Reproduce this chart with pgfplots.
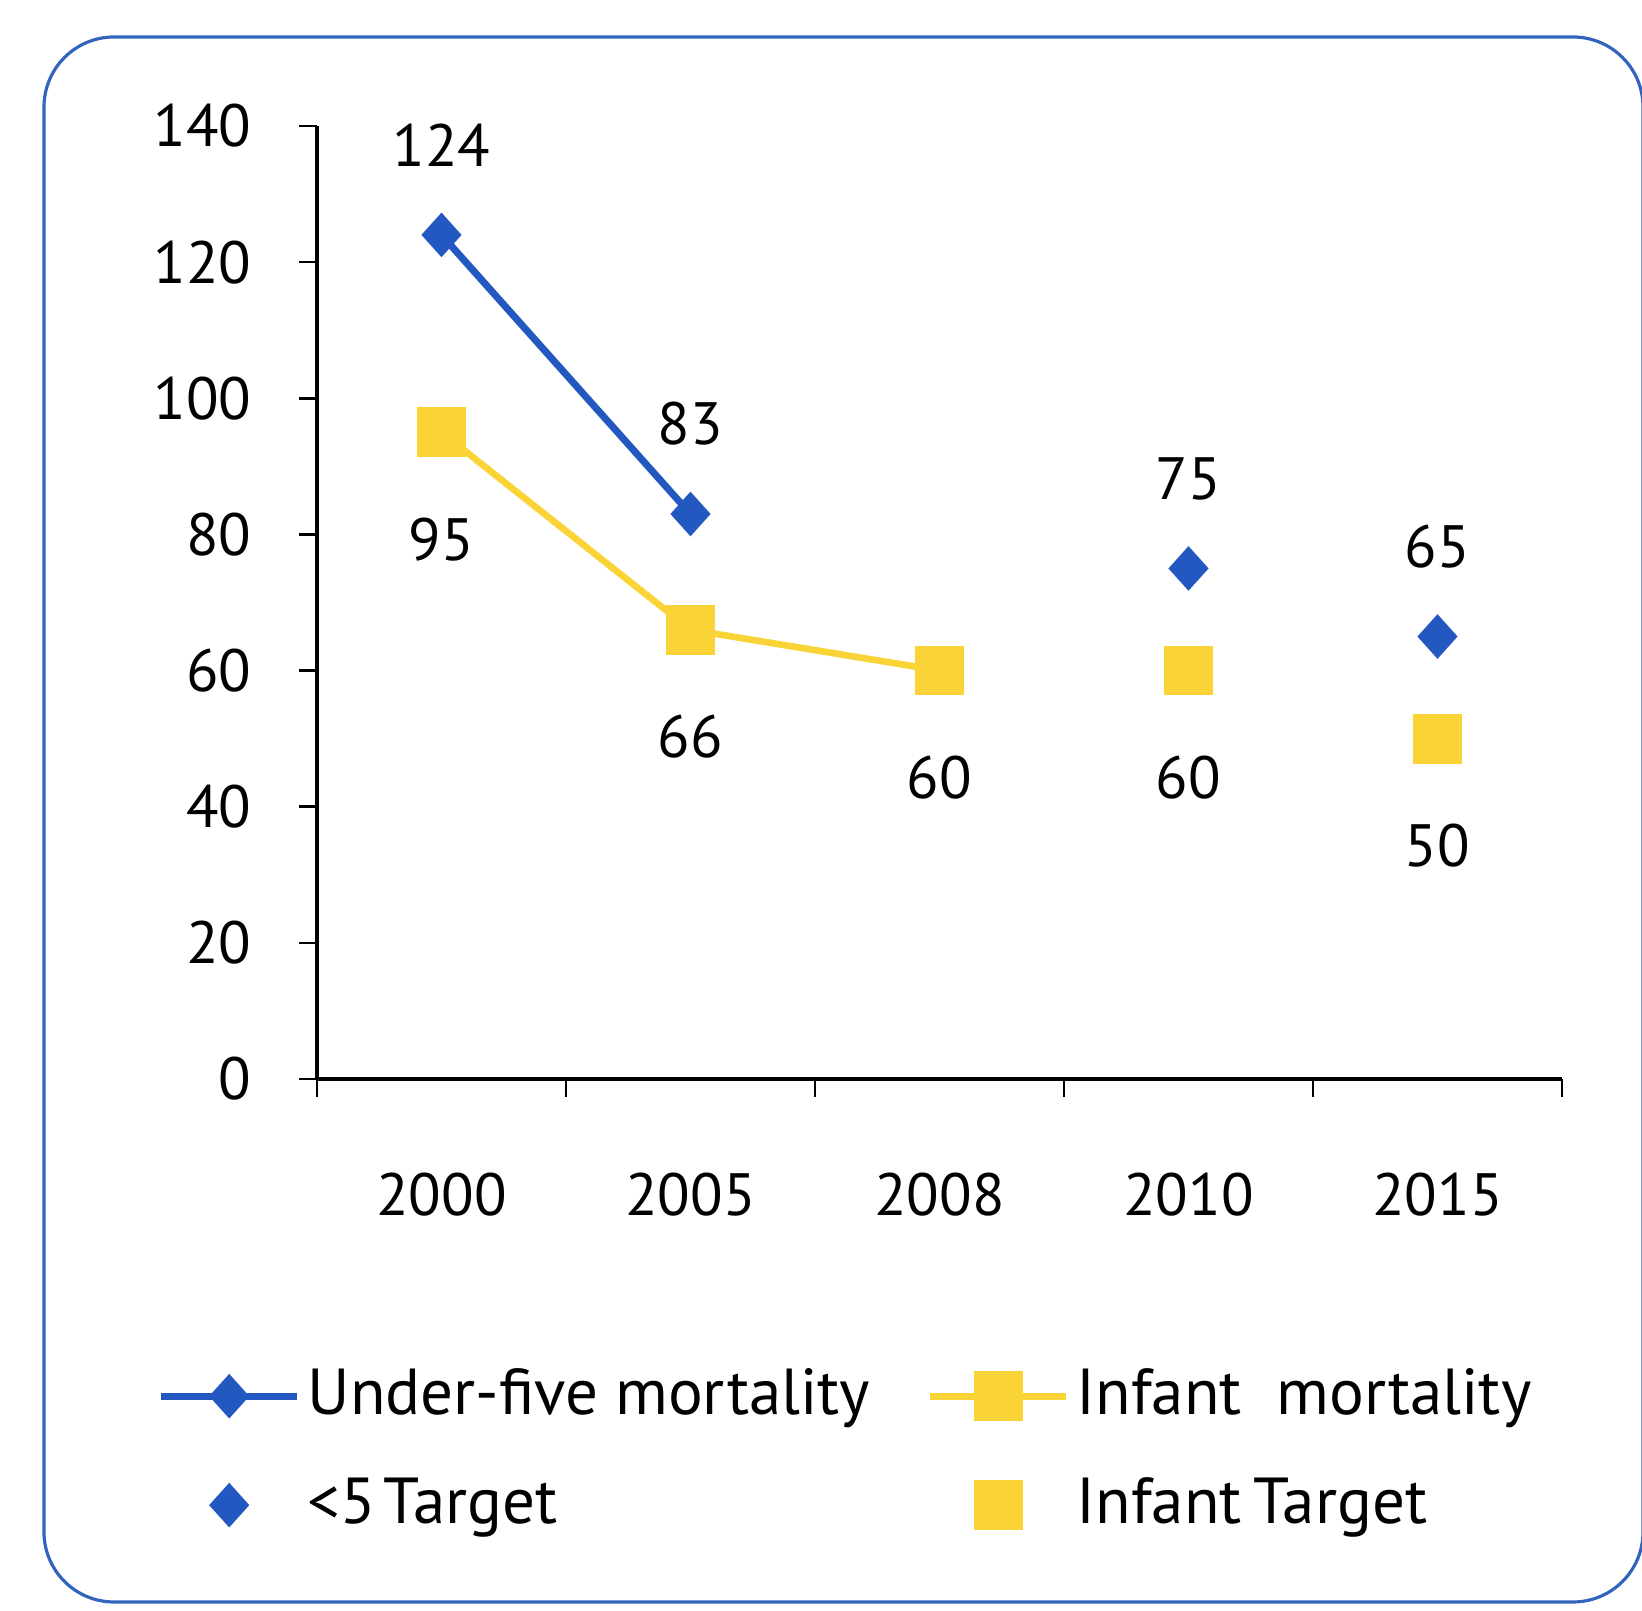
\documentclass[border=0pt]{standalone}
\usepackage{pgfplots}
\pgfplotsset{compat=1.18}
\usepackage{fontspec}
\setmainfont{PT Sans}
\definecolor{cblue}{RGB}{35,88,192}
\definecolor{cyel}{RGB}{250,212,55}
\definecolor{cframe}{RGB}{50,100,190}
\begin{document}
\fontsize{17}{20}\selectfont
\begin{tikzpicture}
\useasboundingbox (0,0) rectangle (16.42,16.11);
\draw[cframe, line width=0.9pt, rounded corners=0.7cm] (0.44,0.09) rectangle (16.43,15.74);
\begin{axis}[
  at={(3.17cm,5.32cm)}, anchor=south west,
  scale only axis, width=12.45cm, height=9.53cm,
  xmin=0, xmax=5, ymin=0, ymax=140,
  axis lines*=left,
  axis line style={line width=0.9pt, black},
  xtick={0,1,2,3,4,5},
  xticklabels={2000,2005,2008,2010,2015},
  x tick label as interval,
  ytick={0,20,...,140},
  tick align=outside,
  major tick length=0.18cm,
  tick style={line width=0.7pt, black},
  /pgf/number format/assume math mode=true,
  ticklabel style={font=\fontsize{17}{20}\selectfont},
  yticklabel style={xshift=-0.27cm},
  xticklabel style={yshift=-0.55cm},
  clip=false,
  legend columns=2,
  legend style={draw=none, fill=none, at={(rel axis cs:0,0)}, anchor=north west,
    xshift=-1.60cm, yshift=-2.82cm, inner sep=0pt, row sep=0.40cm,
    font=\fontsize{18.5}{21}\selectfont, nodes={inner sep=0.07cm},
    /tikz/every even column/.append style={column sep=0.5cm}},
  legend cell align=left,
  legend image code/.code={\draw[mark repeat=2,mark phase=2,#1] plot coordinates {(-0.68cm,0cm)(0cm,0cm)(0.68cm,0cm)};},
]
\addplot[color=cblue, line width=2pt, mark=diamond*, mark size=0.21cm,
  mark options={solid, fill=cblue, line width=0.5pt, xscale=1.2},
  nodes near coords, every node near coord/.append style={anchor=center, yshift=0.9cm, text=black, font=\fontsize{17}{20}\selectfont}]
  coordinates {(0.5,124) (1.5,83)};
\addlegendentry{Under-five mortality}
\addplot[color=cyel, line width=1.9pt, mark=square*, mark size=0.24cm,
  mark options={solid, fill=cyel, line width=0.5pt},
  nodes near coords, every node near coord/.append style={anchor=center, yshift=-1.07cm, text=black, font=\fontsize{17}{20}\selectfont}]
  coordinates {(0.5,95) (1.5,66) (2.5,60)};
\addlegendentry{Infant\ \ mortality}
\addplot[only marks, color=cblue, mark=diamond*, mark size=0.21cm,
  mark options={solid, fill=cblue, line width=0.5pt, xscale=1.2},
  nodes near coords, every node near coord/.append style={anchor=center, yshift=0.9cm, text=black, font=\fontsize{17}{20}\selectfont}]
  coordinates {(3.5,75) (4.5,65)};
\addlegendentry{<5\hspace{0.12em}Target}
\addplot[only marks, color=cyel, mark=square*, mark size=0.24cm,
  mark options={solid, fill=cyel, line width=0.5pt},
  nodes near coords, every node near coord/.append style={anchor=center, yshift=-1.07cm, text=black, font=\fontsize{17}{20}\selectfont}]
  coordinates {(3.5,60) (4.5,50)};
\addlegendentry{Infant\hspace{0.18em}Target}
\end{axis}
\end{tikzpicture}
\end{document}
